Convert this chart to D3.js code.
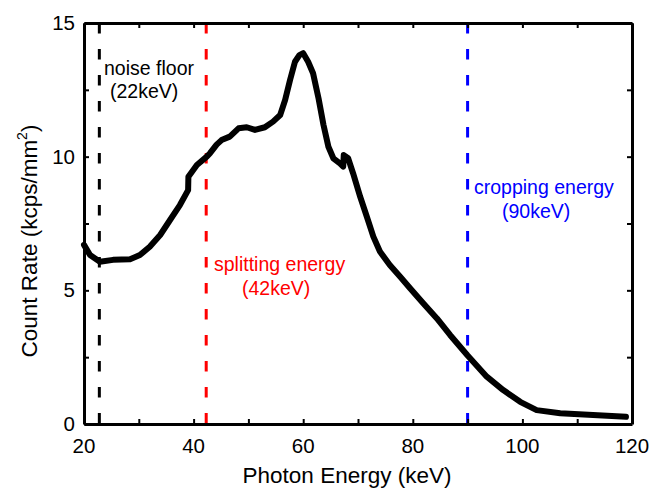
<!DOCTYPE html>
<html>
<head>
<meta charset="utf-8">
<script src="https://cdn.jsdelivr.net/npm/d3@7"></script>
<style>
  body { margin: 0; background: #fff; }
  text { font-family: "Liberation Sans", Arial, Helvetica, sans-serif; }
</style>
</head>
<body>
<div id="chart"></div>
<script>
// spectrum (keV, kcps/mm^2)
var energy = [20, 21.1, 22.9, 25.3, 28.4, 30.2, 32.0, 33.9, 35.7, 37.5, 39.0, 39.05, 40.6, 42.4, 43.0, 44.2,
  45.1, 46.6, 48.2, 49.7, 51.2, 53.0, 54.5, 55.8, 56.7, 57.6, 58.5, 59.3, 60.0, 60.9, 61.8, 62.8, 63.7,
  64.6, 65.5, 66.7, 67.3, 67.4, 68.2, 69.1, 70.4, 71.6, 72.8, 74.0, 75.8, 77.7, 79.5, 81.9, 84.4, 86.8,
  90.0, 93.5, 96.5, 99.6, 102.6, 106.9, 112.9, 118.9];
var countRate = [6.70, 6.32, 6.07, 6.14, 6.16, 6.32, 6.63, 7.07, 7.63, 8.19, 8.75, 9.25, 9.69, 10.0, 10.13, 10.45,
  10.62, 10.75, 11.06, 11.10, 11.0, 11.10, 11.31, 11.56, 12.12, 12.87, 13.55, 13.8, 13.87, 13.55, 13.12, 12.18, 11.19,
  10.37, 9.94, 9.75, 9.63, 10.06, 9.94, 9.38, 8.5, 7.76, 7.01, 6.45, 5.95, 5.51, 5.08, 4.52, 3.95, 3.33,
  2.56, 1.77, 1.27, 0.83, 0.52, 0.40, 0.34, 0.27];

var markerEnergy = [22.8, 42.3, 90];
var markerColor = ["#000000", "#ff0000", "#0000ff"];
var markerLine1 = ["noise floor", "splitting energy", "cropping energy"];
var markerLine2 = ["(22keV)", "(42keV)", "(90keV)"];

var xTicks = [20, 30, 40, 50, 60, 70, 80, 90, 100, 110, 120];
var xLabels = [20, 40, 60, 80, 100, 120];
var yTicks = [0, 2.5, 5, 7.5, 10, 12.5, 15];
var yLabels = [0, 5, 10, 15];

var width = 653, height = 489;
var margin = {left: 84, top: 23, right: 21, bottom: 65};

var svg = d3.select("#chart").append("svg")
  .attr("width", width)
  .attr("height", height);

var x = d3.scaleLinear().domain([20, 120]).range([margin.left, width - margin.right]);
var y = d3.scaleLinear().domain([0, 15]).range([height - margin.bottom, margin.top]);

// dashed marker lines
svg.selectAll(".marker")
  .data(markerEnergy)
  .join("line")
  .attr("x1", d => x(d))
  .attr("x2", d => x(d))
  .attr("y1", y(15))
  .attr("y2", y(0))
  .attr("stroke", (d, i) => markerColor[i])
  .attr("stroke-width", 3)
  .attr("stroke-dasharray", "10.5,15.5");

// spectrum
var pts = energy.map((e, i) => [e, countRate[i]]);
svg.append("path")
  .datum(pts)
  .attr("fill", "none")
  .attr("stroke", "#000")
  .attr("stroke-width", 6)
  .attr("stroke-linejoin", "round")
  .attr("stroke-linecap", "round")
  .attr("d", d3.line().x(d => x(d[0])).y(d => y(d[1])));

// annotations
var annPos = [[104, 75, 110, 98], [214, 271, 242, 295], [474, 194, 502, 218]];
markerEnergy.forEach(function (e, i) {
  svg.append("text")
    .attr("x", annPos[i][0]).attr("y", annPos[i][1])
    .attr("font-size", 19.5).attr("fill", markerColor[i])
    .text(markerLine1[i]);
  svg.append("text")
    .attr("x", annPos[i][2]).attr("y", annPos[i][3])
    .attr("font-size", 19.5).attr("fill", markerColor[i])
    .text(markerLine2[i]);
});

// axes box with inward ticks on all sides
var tickLen = 5;
var gb = svg.append("g").attr("transform", `translate(0,${y(0)})`)
  .call(d3.axisBottom(x).tickValues(xTicks).tickSizeInner(-tickLen).tickSizeOuter(0).tickFormat(""));
var gt = svg.append("g").attr("transform", `translate(0,${y(15)})`)
  .call(d3.axisTop(x).tickValues(xTicks).tickSizeInner(-tickLen).tickSizeOuter(0).tickFormat(""));
var gl = svg.append("g").attr("transform", `translate(${x(20)},0)`)
  .call(d3.axisLeft(y).tickValues(yTicks).tickSizeInner(-tickLen).tickSizeOuter(0).tickFormat(""));
var gr = svg.append("g").attr("transform", `translate(${x(120)},0)`)
  .call(d3.axisRight(y).tickValues(yTicks).tickSizeInner(-tickLen).tickSizeOuter(0).tickFormat(""));
[gb, gt, gl, gr].forEach(function (g) {
  g.select(".domain").attr("stroke", "#000").attr("stroke-width", 3);
  g.selectAll(".tick line").attr("stroke", "#000").attr("stroke-width", 2);
});

svg.selectAll(".xlab")
  .data(xLabels)
  .join("text")
  .attr("x", d => x(d))
  .attr("y", y(0) + 29)
  .attr("text-anchor", "middle")
  .attr("font-size", 20.5)
  .text(d => d);

svg.selectAll(".ylab")
  .data(yLabels)
  .join("text")
  .attr("x", x(20) - 9)
  .attr("y", d => y(d) + 7)
  .attr("text-anchor", "end")
  .attr("font-size", 20.5)
  .text(d => d);

svg.append("text")
  .attr("x", 347)
  .attr("y", 483)
  .attr("text-anchor", "middle")
  .attr("font-size", 22.5)
  .text("Photon Energy (keV)");

var yt = svg.append("text")
  .attr("transform", "translate(37,241) rotate(-90)")
  .attr("text-anchor", "middle")
  .attr("font-size", 22.5);
yt.append("tspan").text("Count Rate (kcps/mm");
yt.append("tspan").attr("font-size", 14).attr("dy", -10).text("2");
yt.append("tspan").attr("dy", 10).text(")");
</script>
</body>
</html>
